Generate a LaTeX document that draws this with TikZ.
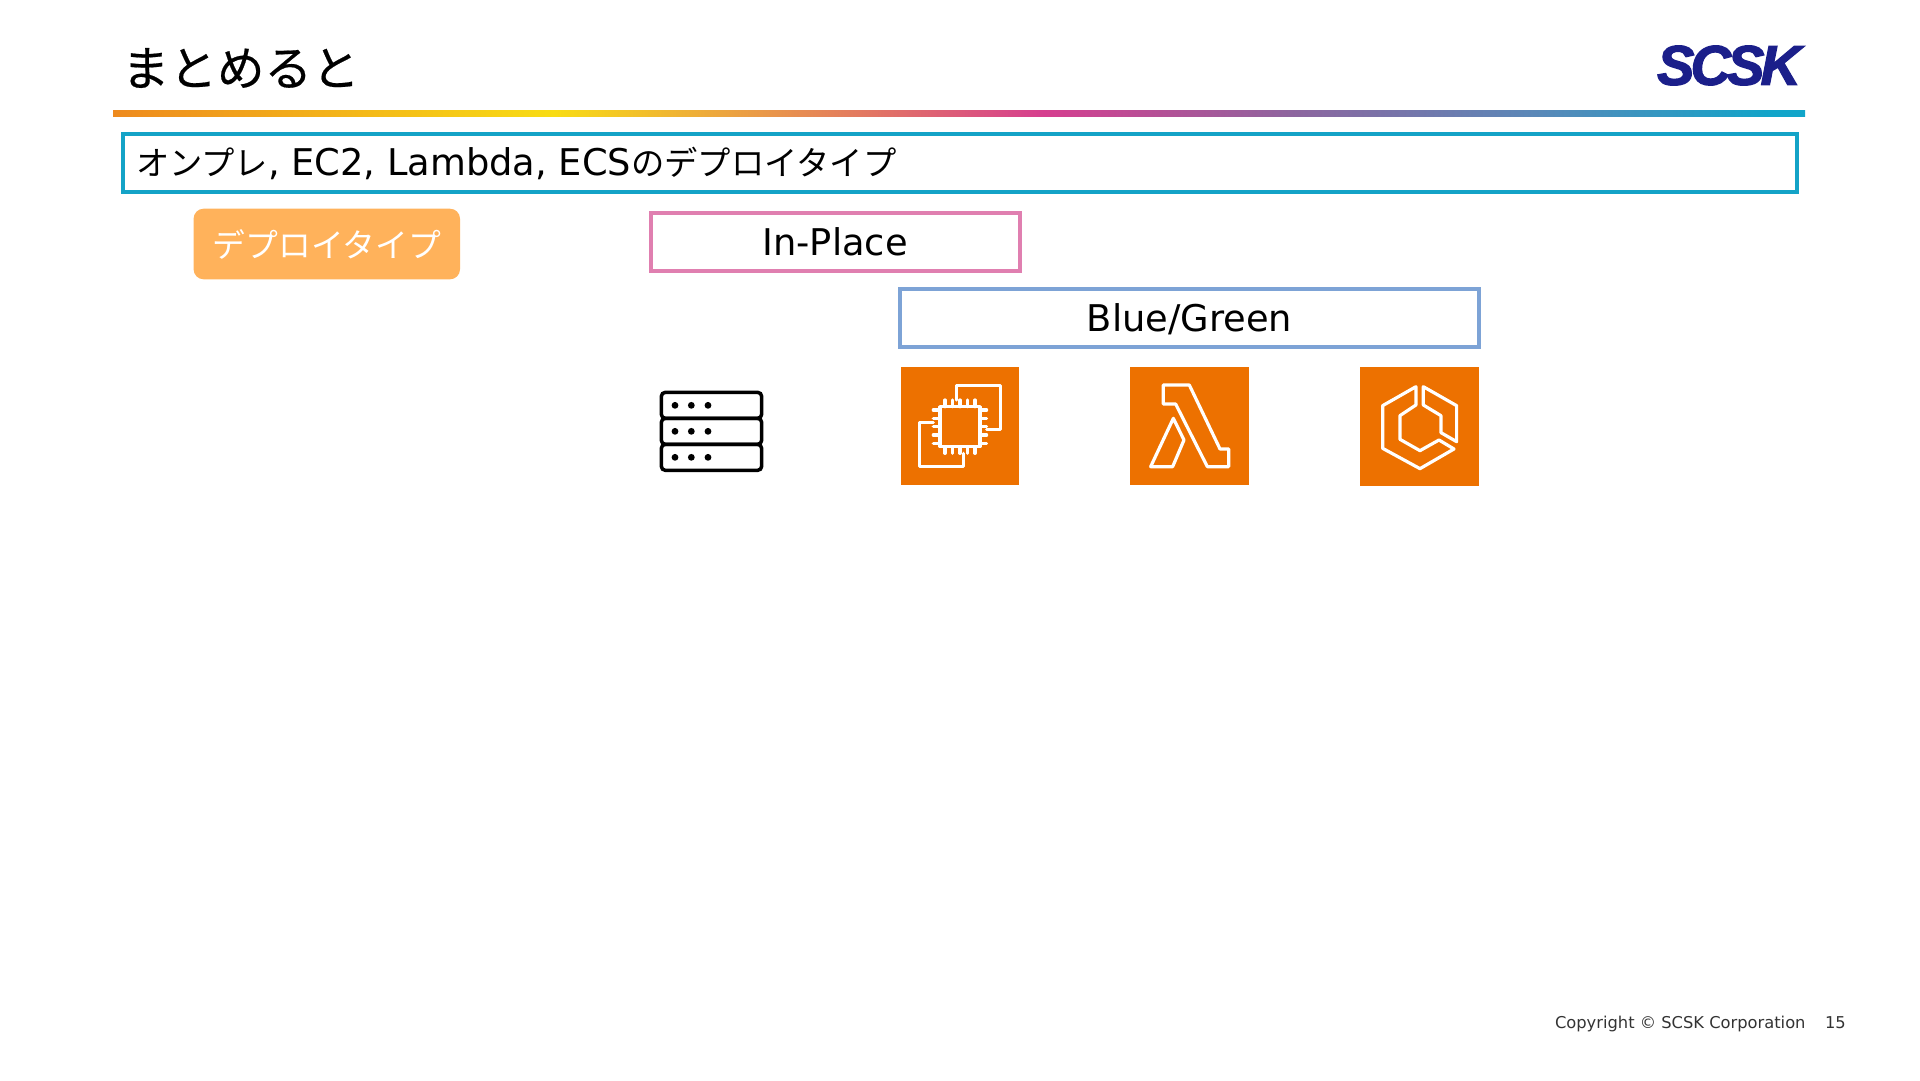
\documentclass[tikz,border=0pt]{standalone}
\usepackage{fontspec}
\setmainfont{DejaVu Sans}
\newfontfamily\jpfont[Scale=0.905]{Noto Sans CJK JP}
\newfontfamily\titlefont[FakeBold=0.4]{Noto Sans CJK JP}
\newfontfamily\logofont[FakeBold=2.2,LetterSpace=-7]{Liberation Sans}
\definecolor{barorange}{HTML}{EE8A1E}
\definecolor{baryellow}{HTML}{F8DC14}
\definecolor{barpink}{HTML}{D63E8F}
\definecolor{barpurple}{HTML}{8C669F}
\definecolor{barblue}{HTML}{5A88B8}
\definecolor{barcyan}{HTML}{11A5C9}
\definecolor{boxcyan}{HTML}{14A3C7}
\definecolor{boxpink}{HTML}{E07FB0}
\definecolor{boxblue}{HTML}{7DA3D6}
\definecolor{pillorange}{HTML}{FFB25B}
\definecolor{iconorange}{HTML}{ED7100}
\definecolor{logonavy}{HTML}{1B1F8A}
\pgfdeclarehorizontalshading{titlebar}{100bp}{color(0bp)=(barorange); color(25bp)=(barorange); color(38bp)=(baryellow); color(52.5bp)=(barpink); color(60bp)=(barpurple); color(67bp)=(barblue); color(74bp)=(barcyan); color(100bp)=(barcyan)}
\tikzset{
    plain/.style={inner sep=0, outer sep=0},
    framed/.style={style=plain, draw, line width=4pt, minimum height=58pt, text depth=0pt, text height=27pt},
    label/.style={style=plain, font=\fontsize{36.8}{40}\selectfont},
    footer/.style={style=plain, anchor=base west, text=black!80, font=\fontsize{16.3}{20}\selectfont},
    iconbox/.style={style=plain, fill=iconorange, minimum size=118.6pt},
    glyph/.style={draw=white, line width=3.2pt, line join=round, line cap=round},
    rack/.style={draw=black, line width=3.5pt, rounded corners=4pt}
}
\begin{document}
\begin{tikzpicture}[x=1pt, y=-1pt]
        \useasboundingbox (0, 0) rectangle (1920, 1080);

        \node[label, anchor=west, font=\fontsize{47.5}{52}\selectfont\titlefont] (title) at (122, 68) {まとめると};
        \node[plain, minimum width=1692pt, minimum height=6pt, shade, shading=titlebar] (titlebar) at (959, 113.7) {};
        \node[plain, text=logonavy, font=\fontsize{56}{60}\selectfont\logofont\bfseries\itshape] (logo) at (1729, 65.5) {SCSK};

        \node[framed, draw=boxcyan, minimum width=1674pt] (summary) at (960, 163) {};
        \node[label, anchor=west] (summary_text) at (136, 163) {{\jpfont オンプレ}, EC2, Lambda, ECS{\jpfont のデプロイタイプ}};

        \node[plain, fill=pillorange, rounded corners=10pt, minimum width=266.4pt, minimum height=70.6pt, text=white, font=\fontsize{32.8}{40}\selectfont\titlefont] (pill) at (326.8, 244) {\addfontfeature{FakeBold=0}デプロイタイプ};

        \node[framed, draw=boxpink, minimum width=369pt, label] (inplace) at (835, 242) {In-Place};
        \node[framed, draw=boxblue, minimum width=579pt, label] (bluegreen) at (1189.5, 318) {Blue/Green};

        % server stack
        \begin{scope}[shift={(640, 350)}, x=0.3333pt, y=-0.3333pt]
            \foreach \top/\dots in {127/166, 205/244, 283/322} {
                \draw[rack] (64, \top) rectangle (365, \top + 78);
                \foreach \dotx in {105, 154, 204} {
                    \fill (\dotx, \dots) circle (3.4pt);
                }
            }
        \end{scope}

        \node[iconbox] (ec2) at (960, 426) {};
        \node[iconbox] (lambda) at (1189.4, 426) {};
        \node[iconbox] (ecs) at (1419.2, 426.6) {};

        % ec2 glyph
        \begin{scope}[shift={(640, 350)}, x=0.3333pt, y=-0.3333pt]
            \draw[glyph] (900, 170) rectangle (1020, 290);
            \foreach \pin in {915, 937, 960, 983, 1005} {
                \draw[glyph] (\pin, 150) -- (\pin, 170);
                \draw[glyph] (\pin, 290) -- (\pin, 310);
            }
            \foreach \pin in {180, 205, 230, 255, 280} {
                \draw[glyph] (880, \pin) -- (900, \pin);
                \draw[glyph] (1020, \pin) -- (1040, \pin);
            }
            \draw[glyph] (950, 150) -- (950, 107) -- (1081, 107) -- (1081, 238) -- (1040, 238);
            \draw[glyph] (880, 217) -- (838, 217) -- (838, 349) -- (970, 349) -- (970, 310);
        \end{scope}

        % lambda and ecs glyphs
        \begin{scope}[shift={(1110, 350)}, x=0.3333pt, y=-0.3333pt]
            \draw[glyph] (160, 105) -- (238, 105) -- (330, 297) -- (356, 297) -- (356, 350) -- (292, 350) -- (197, 162) -- (160, 162) -- cycle;
            \draw[glyph] (122, 350) -- (190, 205) -- (222, 270) -- (188, 350) -- cycle;
            \draw[glyph] (918, 110) -- (818, 167) -- (818, 295) -- (930, 356) -- (1032, 297) -- (987, 270) -- (930, 302) -- (870, 268) -- (870, 197) -- (918, 165) -- cycle;
            \draw[glyph] (940, 110) -- (1040, 167) -- (1040, 275) -- (993, 248) -- (993, 197) -- (940, 165) -- cycle;
        \end{scope}

        \node[footer] (copyright) at (1555, 1028) {Copyright © SCSK Corporation};
        \node[footer] (pagenum) at (1825, 1028) {15};
\end{tikzpicture}
\end{document}
